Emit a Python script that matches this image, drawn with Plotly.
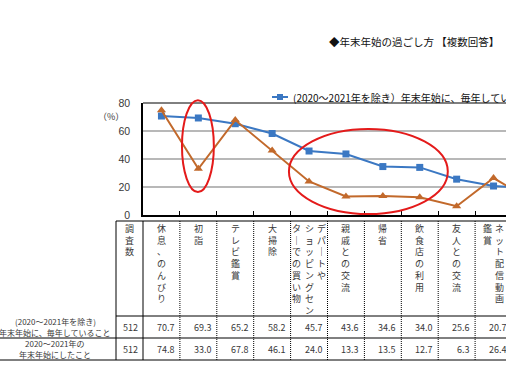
import plotly.graph_objects as go

# ---------------- data ----------------
categories = ["休息、のんびり", "初詣", "テレビ鑑賞", "大掃除",
              "デパートやショッピングセンターでの買い物", "親戚との交流", "帰省",
              "飲食店の利用", "友人との交流", "ネット配信動画鑑賞", ""]  # last label is outside the crop
# header text as vertical columns (right-to-left), as printed in the table
header_columns = ["休息、のんびり", "初詣", "テレビ鑑賞", "大掃除",
                  "デパートや|ショッピングセン|ターでの買い物", "親戚との交流", "帰省",
                  "飲食店の利用", "友人との交流", "ネット配信動画|鑑賞", ""]
every_year = [70.7, 69.3, 65.2, 58.2, 45.7, 43.6, 34.6, 34.0, 25.6, 20.7, 18.9]
in_2020_2021 = [74.8, 33.0, 67.8, 46.1, 24.0, 13.3, 13.5, 12.7, 6.3, 26.4, 10.9]
sample_size = [512, 512]
series_names = ["(2020～2021年を除き）年末年始に、毎年していること",
                "2020～2021年の年末年始にしたこと"]
row_labels = [["(2020～2021年を除き)", "年末年始に、毎年していること"],
              ["2020～2021年の", "年末年始にしたこと"]]
sample_header = "調査数"
y_ticks = [0, 20, 40, 60, 80]
title_text = "◆年末年始の過ごし方 【複数回答】"

# ---------------- geometry ----------------
W, H = 506, 382
L, R, T, B = 143, 0, 103, 167
PW, PH = W - L - R, H - T - B
CAT_PX = 36.9
X_MIN = -0.5
X_MAX = X_MIN + PW / CAT_PX
Y_MAX = 80

BLUE = "#3b78c3"
ORANGE = "#c2692b"
RED = "#e41a1a"
TXT = "#383838"
JP = "Noto Sans CJK JP"


def xp(px):
    return (px - L) / PW


def yp(py):
    return (H - B - py) / PH


def xi(i):
    return (i - X_MIN) / (X_MAX - X_MIN)


def yv(v):
    return v / Y_MAX


def ipx(i):
    return L + (i - X_MIN) * CAT_PX


xs = list(range(len(categories)))

fig = go.Figure()
fig.add_trace(go.Scatter(x=xs, y=every_year, mode="lines+markers", name=series_names[0],
                         line=dict(color=BLUE, width=2),
                         marker=dict(symbol="square", size=7, color=BLUE), showlegend=False))
fig.add_trace(go.Scatter(x=xs, y=in_2020_2021, mode="lines+markers", name=series_names[1],
                         line=dict(color=ORANGE, width=2),
                         marker=dict(symbol="triangle-up", size=8, color=ORANGE), showlegend=False))

shapes = []
annotations = []

# top frame line
shapes.append(dict(type="line", xref="paper", yref="paper", x0=0, x1=1.01, y0=1, y1=1,
                   line=dict(color="black", width=1)))

# ---------------- table ----------------
TOP, HB, R1, R2 = 221, 316, 338, 360
TL = 116


def hline(py, px0):
    shapes.append(dict(type="line", xref="paper", yref="paper", x0=xp(px0), x1=xp(W + 2),
                       y0=yp(py), y1=yp(py), line=dict(color="black", width=1)))


def vline(px, dash="solid"):
    shapes.append(dict(type="line", xref="paper", yref="paper", x0=xp(px), x1=xp(px),
                       y0=yp(TOP), y1=yp(R2), line=dict(color="black", width=1, dash=dash)))


hline(TOP, TL)
hline(HB, TL)
hline(R1, 0)
hline(R2, 0)
vline(TL)
vline(L)

visible = [i for i in xs if ipx(i - 0.5) < W]
for i in visible:
    if ipx(i + 0.5) < W:
        vline(ipx(i + 0.5), dash="1px,1px")


def vertical_text(text, cx):
    cols = text.split("|")
    n = len(cols)
    for j, col in enumerate(cols):
        off = ((n - 1) / 2 - j) * 12.8
        chars = ["｜" if c == "ー" else c for c in col]
        annotations.append(dict(xref="paper", yref="paper", x=xp(cx + off), y=yp(TOP - 1),
                                xanchor="center", yanchor="top", showarrow=False,
                                text="<br>".join(chars), align="center",
                                font=dict(family=JP, size=9, color=TXT)))


vertical_text(sample_header, (TL + L) / 2)
for i in visible:
    vertical_text(header_columns[i], ipx(i))

rows = [every_year, in_2020_2021]
row_y = [(HB + R1) / 2, (R1 + R2) / 2]
for r, vals in enumerate(rows):
    for k, line in enumerate(row_labels[r]):
        annotations.append(dict(xref="paper", yref="paper", x=xp(55),
                                y=yp(row_y[r] + (k - 0.5) * 11.5),
                                xanchor="center", yanchor="middle", showarrow=False,
                                text=line, font=dict(family=JP, size=8, color=TXT)))
    annotations.append(dict(xref="paper", yref="paper", x=xp((TL + L) / 2 + 1), y=yp(row_y[r]),
                            xanchor="center", yanchor="middle", showarrow=False,
                            text=str(sample_size[r]),
                            font=dict(family=JP, size=9, color=TXT)))
    for i in visible:
        annotations.append(dict(xref="paper", yref="paper", x=xp(ipx(i + 0.5) - 3), y=yp(row_y[r]),
                                xanchor="right", yanchor="middle", showarrow=False,
                                text=f"{vals[i]:.1f}",
                                font=dict(family=JP, size=9, color=TXT)))

# ---------------- red emphasis ellipses (category index, value) ----------------
ellipses = [(0.556, 1.42, 16.4, 82.0), (3.455, 7.76, 0.7, 61.5)]
for x0, x1, y0, y1 in ellipses:
    shapes.append(dict(type="circle", xref="paper", yref="paper",
                       x0=xi(x0), x1=xi(x1), y0=yv(y0), y1=yv(y1),
                       line=dict(color=RED, width=2)))

# ---------------- legend (manual) ----------------
LY = 97
shapes.append(dict(type="line", xref="paper", yref="paper", x0=xp(272), x1=xp(288),
                   y0=yp(LY), y1=yp(LY), line=dict(color=BLUE, width=2)))
shapes.append(dict(type="rect", xref="paper", yref="paper", x0=xp(277), x1=xp(283),
                   y0=yp(LY - 3), y1=yp(LY + 3), fillcolor=BLUE, line=dict(width=0)))
annotations.append(dict(xref="paper", yref="paper", x=xp(291), y=yp(LY),
                        xanchor="left", yanchor="middle", showarrow=False,
                        text=series_names[0], font=dict(family=JP, size=10, color="#111")))

# title, y-axis unit
annotations.append(dict(xref="paper", yref="paper", x=xp(501), y=yp(42),
                        xanchor="right", yanchor="middle", showarrow=False,
                        text=title_text, font=dict(family=JP, size=10.5, color="#111")))
annotations.append(dict(xref="paper", yref="paper", x=xp(111), y=yp(116),
                        xanchor="center", yanchor="middle", showarrow=False,
                        text="（%）", font=dict(family=JP, size=9, color=TXT)))

fig.update_layout(
    width=W, height=H,
    margin=dict(l=L, r=R, t=T, b=B, pad=0),
    paper_bgcolor="white", plot_bgcolor="white",
    shapes=shapes, annotations=annotations,
    xaxis=dict(range=[X_MIN, X_MAX], showgrid=False, zeroline=False,
               tickvals=[i + 0.5 for i in xs], showticklabels=False,
               ticks="inside", ticklen=4, tickcolor="black",
               showline=True, linecolor="black", linewidth=2),
    yaxis=dict(range=[0, Y_MAX], tickvals=y_ticks, showgrid=True, gridcolor="#b8b8b8",
               gridwidth=2, zeroline=False, showline=True, linecolor="black", linewidth=1.5,
               ticks="", ticklabelstandoff=9,
               tickfont=dict(family="Liberation Sans", size=10.5, color=TXT)),
    showlegend=False,
)

fig.write_html("out.html", config={"displayModeBar": False},
               post_script="document.body.style.margin='0';document.body.style.overflow='hidden';")
